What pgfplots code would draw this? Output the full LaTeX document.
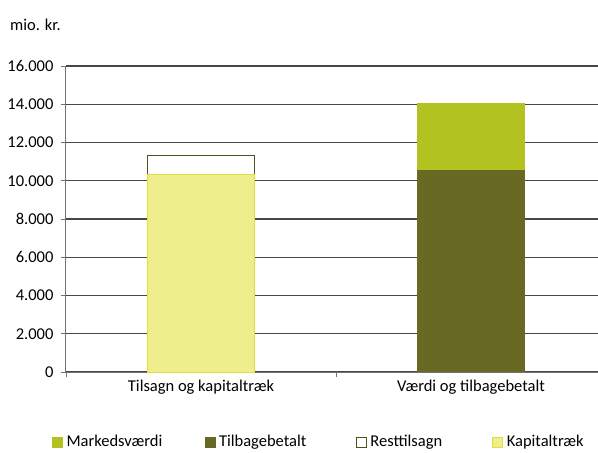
\documentclass[border=0pt]{standalone}
\usepackage{pgfplots}
\pgfplotsset{compat=1.18}
\usepackage{fontspec}
\setmainfont{Carlito}

\definecolor{marked}{RGB}{178,194,32}
\definecolor{tilbage}{RGB}{104,106,36}
\definecolor{restkant}{RGB}{78,80,30}
\definecolor{kapital}{RGB}{238,238,140}
\definecolor{kapkant}{RGB}{222,224,60}

\pgfplotsset{
	sqleg/.style={legend image code/.code={\draw[##1] (0pt,-5pt) rectangle (10pt,5pt);}},
	base/.style={
		scale only axis,
		width=540pt, height=306pt,
		xmin=-0.5, xmax=1.5,
		ymin=0, ymax=16000,
		ybar stacked, bar width=107pt,
		font=\fontsize{16.5}{19}\selectfont,
	},
}

\begin{document}
\begin{tikzpicture}
\begin{axis}[
	base,
	axis lines=left,
	axis line style={-, draw=black!55, line width=1pt},
	ytick={0,2000,...,16000},
	scaled y ticks=false,
	yticklabel style={xshift=-4pt},
	ymajorgrids=true,
	grid style={draw=black!72, line width=1.2pt},
	xtick={-0.5,0.5,1.5},
	x tick label as interval,
	xticklabels={Tilsagn og kapitaltræk, Værdi og tilbagebetalt},
	tick align=outside,
	major tick length=5pt,
	tick style={draw=black!55, line width=0.8pt},
	/pgf/number format/assume math mode=true,
	/pgf/number format/1000 sep={.},
	legend columns=4,
	legend style={at={(-0.0259,-0.228)}, anchor=west, draw=none, fill=none,
		inner sep=0pt, font=\fontsize{16.5}{19}\selectfont},
	legend cell align=left,
]
\addlegendimage{sqleg, fill=marked, draw=marked}
\addlegendentry{\makebox[138pt][l]{\hspace{2pt}Markedsværdi}}
\addlegendimage{sqleg, fill=tilbage, draw=tilbage}
\addlegendentry{\makebox[137pt][l]{\hspace{2pt}Tilbagebetalt}}
\addlegendimage{sqleg, fill=white, draw=restkant}
\addlegendentry{\makebox[122pt][l]{\hspace{2pt}Resttilsagn}}
\addlegendimage{sqleg, fill=kapital, draw=kapkant}
\addlegendentry{\hspace{2pt}Kapitaltræk}

% Tilsagn og kapitaltræk
\addplot[fill=kapital, draw=kapkant, line width=1pt, forget plot] coordinates {(0,10350)};
\addplot[fill=white, draw=restkant, line width=1pt, forget plot] coordinates {(0,950)};
\end{axis}
\begin{axis}[base, hide axis]
% Værdi og tilbagebetalt
\addplot[fill=tilbage, draw=tilbage, forget plot] coordinates {(1,10560)};
\addplot[fill=marked, draw=marked, forget plot] coordinates {(1,3510)};
\end{axis}
\node[anchor=west, inner sep=0pt, font=\fontsize{16.5}{19}\selectfont] at (-56pt,347pt) {mio. kr.};
\pgfresetboundingbox
\useasboundingbox (-66pt,-81pt) rectangle (532pt,372pt);
\end{tikzpicture}
\end{document}
